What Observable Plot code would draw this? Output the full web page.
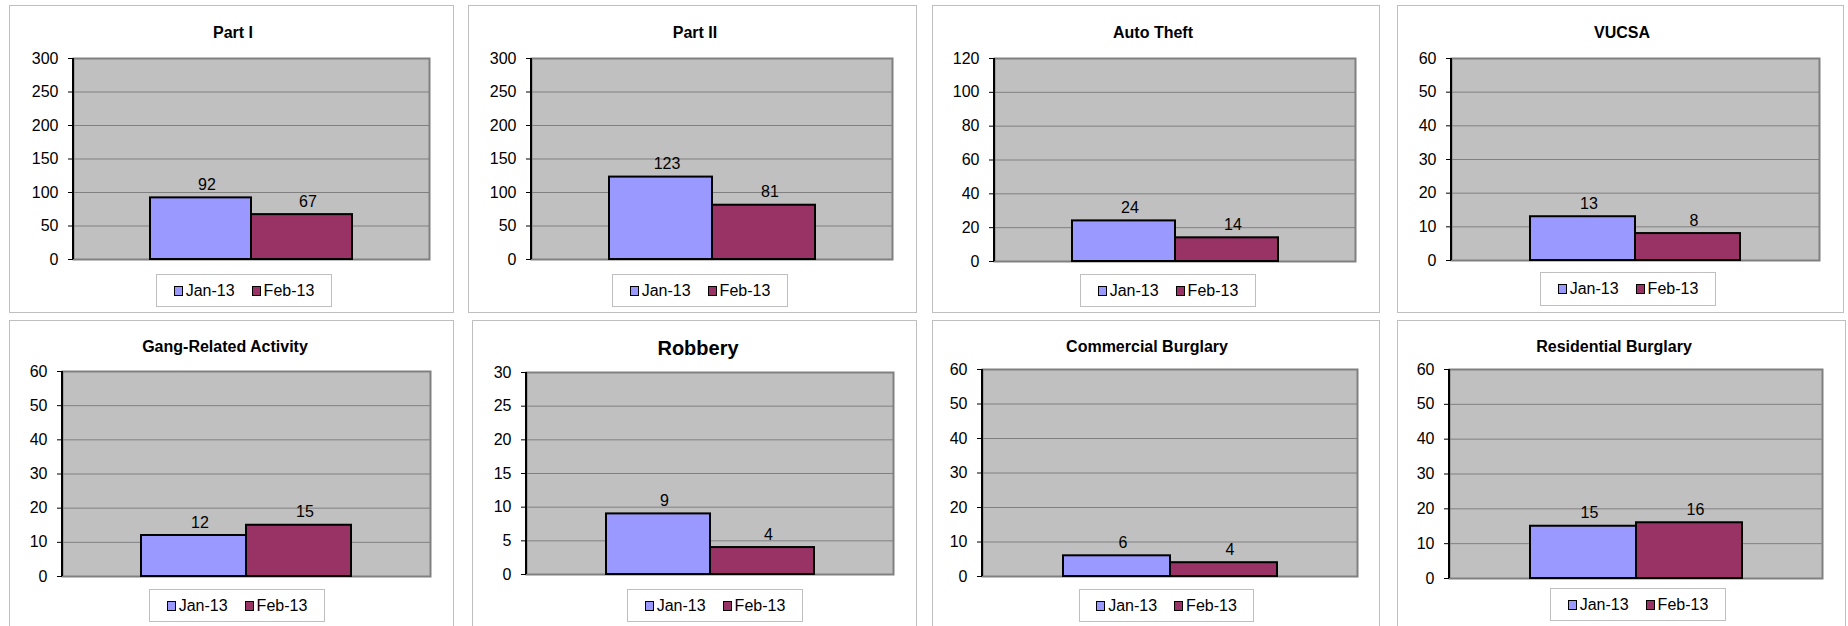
<!DOCTYPE html>
<html><head><meta charset="utf-8">
<script src="https://cdn.jsdelivr.net/npm/d3@7"></script>
<script src="https://cdn.jsdelivr.net/npm/@observablehq/plot@0.6"></script>
<style>
body{margin:0;background:#fff;font-family:"Liberation Sans",Arial,sans-serif;}
#page{position:relative;width:1848px;height:626px;overflow:hidden;background:#fff;}
.panel{position:absolute;border:1px solid #BFBFBF;box-sizing:border-box;background:#fff;}
.title{position:absolute;font-weight:bold;white-space:nowrap;transform:translateX(-50%);line-height:normal;color:#000;}
.legend{position:absolute;border:1px solid #BFBFBF;box-sizing:border-box;background:#fff;display:flex;align-items:center;justify-content:center;font-size:16px;color:#000;gap:17px;}
.item{display:flex;align-items:center;}
.sw{width:7px;height:8px;border:1.5px solid #000;margin-right:3px;}
.plotwrap{position:absolute;}
</style>
</head><body><div id="page"></div>
<script>
// ---- data ----
const titles = ["Part I","Part II","Auto Theft","VUCSA","Gang-Related Activity","Robbery","Commercial Burglary","Residential Burglary"];
const series = ["Jan-13","Feb-13"];
const jan13 = [92,123,24,13,12,9,6,15];
const feb13 = [67,81,14,8,15,4,4,16];
const yMax = [300,300,120,60,60,30,60,60];
const yStep = [50,50,20,10,10,5,10,10];
const seriesColors = ["#9999FF","#993366"];

// ---- layout (page pixels) ----
const layout = [
 {box:[9,5,454,313], plot:[73,58,429,259], tx:233, ty:32.5, ts:16, legend:[156,274,332,307]},
 {box:[468,5,917,313], plot:[531,58,892,259], tx:695, ty:32.5, ts:16, legend:[612,274,788,307]},
 {box:[932,5,1380,313], plot:[994,58,1355,261], tx:1153, ty:32.5, ts:16, legend:[1080,274,1256,307]},
 {box:[1397,5,1844,313], plot:[1451,58,1819,260], tx:1622, ty:32.5, ts:16, legend:[1540,272,1716,306]},
 {box:[9,320,454,640], plot:[62,371,430,576], tx:225, ty:346.7, ts:16, legend:[149,589,325,622]},
 {box:[472,320,917,640], plot:[526,372,893,574], tx:698, ty:348.3, ts:20, legend:[627,589,803,622]},
 {box:[932,320,1380,640], plot:[982,369,1357,576], tx:1147, ty:346.7, ts:16, legend:[1079,589,1254,622]},
 {box:[1397,320,1846,640], plot:[1449,369,1822,578], tx:1614, ty:346.7, ts:16, legend:[1550,588,1726,621]}
];

const page = document.getElementById("page");
const mL = 60, mT = 10, mR = 6, mB = 10;

function leftAxisLine(index, scales, values, dims) {
  const x = dims.marginLeft;
  return d3.create("svg:line")
    .attr("x1", x).attr("x2", x)
    .attr("y1", dims.marginTop).attr("y2", dims.height - dims.marginBottom)
    .attr("stroke", "#000").attr("stroke-width", 2).node();
}

titles.forEach((title, p) => {
  const L = layout[p];
  const panel = document.createElement("div");
  panel.className = "panel";
  Object.assign(panel.style, {left: L.box[0]+"px", top: L.box[1]+"px", width: (L.box[2]-L.box[0])+"px", height: (L.box[3]-L.box[1])+"px"});
  page.appendChild(panel);

  const t = document.createElement("div");
  t.className = "title";
  t.textContent = title;
  t.style.fontSize = L.ts + "px";
  t.style.left = L.tx + "px";
  t.style.top = (L.ty - L.ts * 0.545) + "px";
  page.appendChild(t);

  const data = series.map((s, i) => ({series: s, value: [jan13, feb13][i][p]}));
  const ticks = d3.range(0, yMax[p] + yStep[p] / 2, yStep[p]);
  const pw = L.plot[2] - L.plot[0], ph = L.plot[3] - L.plot[1];

  const chart = Plot.plot({
    width: pw + mL + mR,
    height: ph + mT + mB,
    marginLeft: mL, marginTop: mT, marginRight: mR, marginBottom: mB,
    style: {background: "transparent", fontFamily: "'Liberation Sans', Arial, sans-serif", color: "#000", overflow: "visible"},
    x: {type: "band", domain: series, paddingInner: 0, paddingOuter: 0.75, axis: null},
    y: {domain: [0, yMax[p]], nice: false, label: null},
    color: {domain: series, range: seriesColors},
    marks: [
      Plot.frame({fill: "#C0C0C0"}),
      Plot.ruleY(ticks, {stroke: "#808080", strokeWidth: 1}),
      Plot.frame({stroke: "#808080", strokeWidth: 2}),
      Plot.barY(data, {x: "series", y: "value", fill: "series", stroke: "#000", strokeWidth: 2}),
      Plot.text(data, {x: "series", y: "value", text: d => String(d.value), lineAnchor: "middle", dy: -13, dx: 6, fontSize: 16, fill: "#000"}),
      Plot.axisY({ticks: ticks, tickSize: 5, tickPadding: 10, fontSize: 16, tickFormat: d => String(d), stroke: "#000", fill: "#000", label: null}),
      leftAxisLine
    ]
  });
  const wrap = document.createElement("div");
  wrap.className = "plotwrap";
  wrap.style.left = (L.plot[0] - mL) + "px";
  wrap.style.top = (L.plot[1] - mT) + "px";
  wrap.appendChild(chart);
  page.appendChild(wrap);

  const lg = document.createElement("div");
  lg.className = "legend";
  Object.assign(lg.style, {left: L.legend[0]+"px", top: L.legend[1]+"px", width: (L.legend[2]-L.legend[0])+"px", height: (L.legend[3]-L.legend[1])+"px"});
  series.forEach((s, i) => {
    const it = document.createElement("div");
    it.className = "item";
    const sw = document.createElement("div");
    sw.className = "sw";
    sw.style.background = seriesColors[i];
    const tx = document.createElement("span");
    tx.textContent = s;
    it.appendChild(sw); it.appendChild(tx);
    lg.appendChild(it);
  });
  page.appendChild(lg);
});
</script>
</body></html>
